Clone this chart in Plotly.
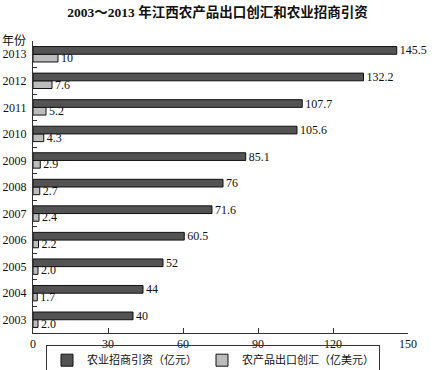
import plotly.graph_objects as go

years = ["2003", "2004", "2005", "2006", "2007", "2008", "2009", "2010", "2011", "2012", "2013"]
invest = [40, 44, 52, 60.5, 71.6, 76, 85.1, 105.6, 107.7, 132.2, 145.5]
invest_labels = ["40", "44", "52", "60.5", "71.6", "76", "85.1", "105.6", "107.7", "132.2", "145.5"]
export = [2.0, 1.7, 2.0, 2.2, 2.4, 2.7, 2.9, 4.3, 5.2, 7.6, 10]
export_labels = ["2.0", "1.7", "2.0", "2.2", "2.4", "2.7", "2.9", "4.3", "5.2", "7.6", "10"]
x_ticks = [0, 30, 60, 90, 120, 150]

FONT = "Liberation Serif, Noto Sans CJK SC, serif"

fig = go.Figure()
fig.add_trace(go.Bar(
    y=years, x=export, orientation="h", name="农产品出口创汇（亿美元）",
    marker=dict(color="#bcbcbc", line=dict(color="#111111", width=1)),
    text=export_labels, textposition="outside", cliponaxis=False, constraintext="none",
    textfont=dict(family=FONT, size=12, color="#111111"), legendrank=2,
))
fig.add_trace(go.Bar(
    y=years, x=invest, orientation="h", name="农业招商引资（亿元）",
    marker=dict(color="#535353", line=dict(color="#111111", width=1)),
    text=invest_labels, textposition="outside", cliponaxis=False, constraintext="none",
    textfont=dict(family=FONT, size=12, color="#111111"), legendrank=1,
))

fig.update_layout(
    width=435, height=370,
    margin=dict(l=33, r=27, t=41, b=37, autoexpand=False),
    paper_bgcolor="white", plot_bgcolor="white",
    barmode="group", bargap=0.42, bargroupgap=0.0,
    font=dict(family=FONT, size=12, color="#111111"),
    title=dict(text="<b>2003～2013 年江西农产品出口创汇和农业招商引资</b>",
               x=0.5, xanchor="center", y=0.967, yanchor="middle",
               font=dict(family=FONT, size=13.5, color="#111111")),
    showlegend=True,
    legend=dict(orientation="h", x=0.48, xanchor="center", y=-0.04, yanchor="top",
                bordercolor="#333333", borderwidth=1, bgcolor="rgba(0,0,0,0)",
                font=dict(family=FONT, size=11, color="#111111"),
                itemwidth=30, tracegroupgap=0),
    xaxis=dict(range=[0, 150], tickvals=x_ticks, ticks="inside", ticklen=5,
               tickcolor="#333333", showline=True, linecolor="#333333", linewidth=1,
               showgrid=False, zeroline=False, automargin=False,
               tickfont=dict(family=FONT, size=12, color="#111111")),
    yaxis=dict(type="category", categoryorder="array", categoryarray=years,
               ticks="inside", tickson="boundaries", ticklen=4, tickcolor="#333333",
               showline=True, linecolor="#333333", linewidth=1, showgrid=False,
               ticklabelstandoff=3, automargin=False,
               tickfont=dict(family=FONT, size=12, color="#111111")),
    annotations=[dict(text="年份", xref="paper", yref="paper", x=-0.05, y=1.0,
                      xanchor="center", yanchor="middle", showarrow=False,
                      font=dict(family=FONT, size=12, color="#111111"))],
)

fig.write_html("out.html", config={"displayModeBar": False},
               post_script="document.body.style.margin='0px';")
